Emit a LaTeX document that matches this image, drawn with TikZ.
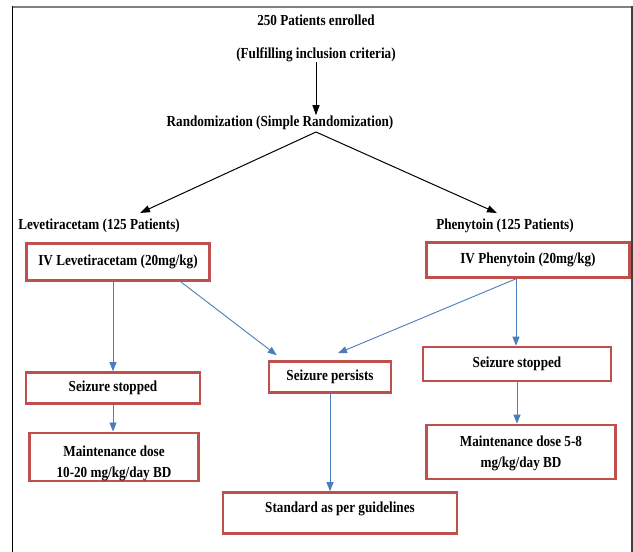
\documentclass[tikz,border=0pt]{standalone}
\usepackage{fontspec}
\setmainfont{Liberation Serif}[FakeStretch=0.86]
\usetikzlibrary{arrows.meta}

\definecolor{boxred}{RGB}{192,80,77}
\definecolor{flowblue}{RGB}{74,126,187}

\tikzset{
    box/.style={draw=boxred, line width=2.6pt, inner sep=0pt, align=center},
    lbl/.style={inner sep=0pt, anchor=base},
    bluearrow/.style={draw=flowblue, line width=0.9pt, -{Triangle[width=7pt,length=9pt]}},
    blackarrow/.style={draw=black, line width=1pt, -{Triangle[width=7pt,length=10pt]}},
}

\begin{document}
\begin{tikzpicture}[x=1pt, y=-1pt, font=\bfseries\fontsize{15.3}{21}\selectfont]
    \useasboundingbox (0,0) rectangle (633,552);

    % frame
    \draw[gray, line width=2pt] (12,6.5) -- (632,6.5);
    \draw[black, line width=1.3pt] (12.5,6) -- (12.5,552);
    \draw[darkgray, line width=1.3pt] (632,6) -- (632,552);

    \node[lbl] (enrolled) at (316,25) {250 Patients enrolled};
    \node[lbl] (fulfil) at (316,58) {(Fulfilling inclusion criteria)};
    \node[lbl] (rand) at (280,126) {Randomization (Simple Randomization)};
    \draw[blackarrow] (fulfil.south) -- (fulfil.south |- rand.north);

    \node[lbl] (lev) at (99,229) {Levetiracetam (125 Patients)};
    \node[lbl] (phe) at (505,229) {Phenytoin (125 Patients)};
    \coordinate (apex) at (316,132);
    \coordinate (tipL) at (140,213);
    \coordinate (tipR) at (497,213);
    \draw[blackarrow] (apex) -- (tipL);
    \draw[blackarrow] (apex) -- (tipR);

    % boxes
    \node[box, minimum width=183, minimum height=37] (ivlev) at (118,262) {IV Levetiracetam (20mg/kg)};
    \node[box, minimum width=203, minimum height=35] (ivphe) at (528,260) {IV Phenytoin (20mg/kg)};
    \node[box, minimum width=174, minimum height=31] (stopL) at (113,388) {Seizure stopped};
    \node[box, minimum width=122, minimum height=31] (persist) at (330,377) {Seizure persists};
    \node[box, minimum width=188, minimum height=34] (stopR) at (517,364) {Seizure stopped};
    \node[box, minimum width=169, minimum height=45, text height=45pt] (maintL) at (114,457) {Maintenance dose\\10-20 mg/kg/day BD};
    \node[box, minimum width=189, minimum height=54, text height=35pt] (maintR) at (521,452) {Maintenance dose 5-8\\mg/kg/day BD};
    \node[box, minimum width=234, minimum height=41, text depth=11pt] (standard) at (340,513) {Standard as per guidelines};

    % blue connectors
    \draw[bluearrow] (ivlev.south -| stopL.north) -- (stopL.north);
    \draw[bluearrow] ([xshift=-30pt]ivlev.south east) -- ([xshift=9pt, yshift=5pt]persist.north west);
    \draw[bluearrow] ([xshift=-12pt]ivphe.south) -- ([xshift=8pt, yshift=7pt]persist.north);
    \draw[bluearrow] ([xshift=-12pt]ivphe.south) -- ([xshift=-12pt]ivphe.south |- stopR.north);
    \draw[bluearrow] (stopL.south) -- (stopL.south |- maintL.north);
    \draw[bluearrow] (persist.south) -- (persist.south |- standard.north);
    \draw[bluearrow] (stopR.south) -- (stopR.south |- maintR.north);
\end{tikzpicture}
\end{document}
